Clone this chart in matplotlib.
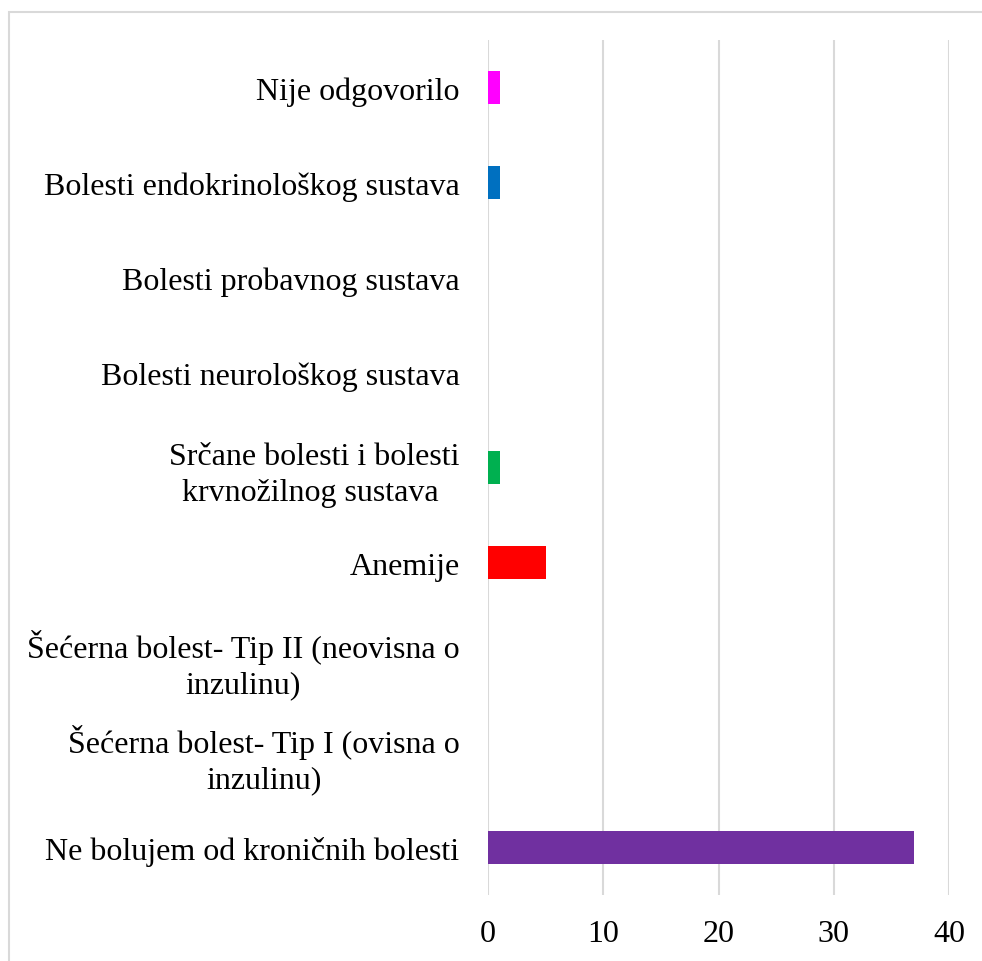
import matplotlib
matplotlib.use("Agg")
import matplotlib.pyplot as plt
from matplotlib.patches import Rectangle

categories = [
    "Ne bolujem od kroničnih bolesti",
    "Šećerna bolest- Tip I (ovisna o\ninzulinu)",
    "Šećerna bolest- Tip II (neovisna o\ninzulinu)",
    "Anemije",
    "Srčane bolesti i bolesti\nkrvnožilnog sustava ",
    "Bolesti neurološkog sustava",
    "Bolesti probavnog sustava",
    "Bolesti endokrinološkog sustava",
    "Nije odgovorilo",
]
values = [37, 0, 0, 5, 1, 0, 0, 1, 1]
colors = ["#7030A0", "#4472C4", "#ED7D31", "#FF0000", "#00B050",
          "#FFC000", "#5B9BD5", "#0070C0", "#FF00FF"]
xticks = [0, 10, 20, 30, 40]

plt.rcParams['font.family'] = ['Liberation Serif', 'DejaVu Serif']

W, H = 982, 962
fig = plt.figure(figsize=(W / 100, H / 100), dpi=100)
fig.patch.set_facecolor("white")

# chart border (cropped Excel chart area)
fig.patches.append(Rectangle((8.5 / W, -0.05), 1.2, 1 - 12.5 / H + 0.05,
                             transform=fig.transFigure, fill=False,
                             edgecolor="#D9D9D9", linewidth=1.5))

ax = fig.add_axes([488 / W, 1 - 896 / H, (949 - 488) / W, (896 - 41) / H])
y = list(range(len(categories)))
ax.barh(y, values, height=0.355, color=colors, zorder=3)
ax.set_xlim(0, 40)
ax.set_ylim(-0.5, len(categories) - 0.5)
ax.set_xticks(xticks)
ax.set_xticklabels([str(t) for t in xticks], fontsize=23)
ax.set_yticks(y)
ax.set_yticklabels(categories, fontsize=23, multialignment="center",
                   linespacing=1.3)
ax.tick_params(axis="x", length=0, pad=17)
ax.tick_params(axis="y", length=0, pad=20.5)
ax.grid(axis="x", color="#D9D9D9", linewidth=1.5, zorder=0)
for s in ax.spines.values():
    s.set_visible(False)

fig.savefig("out.png", dpi=100, facecolor="white")
